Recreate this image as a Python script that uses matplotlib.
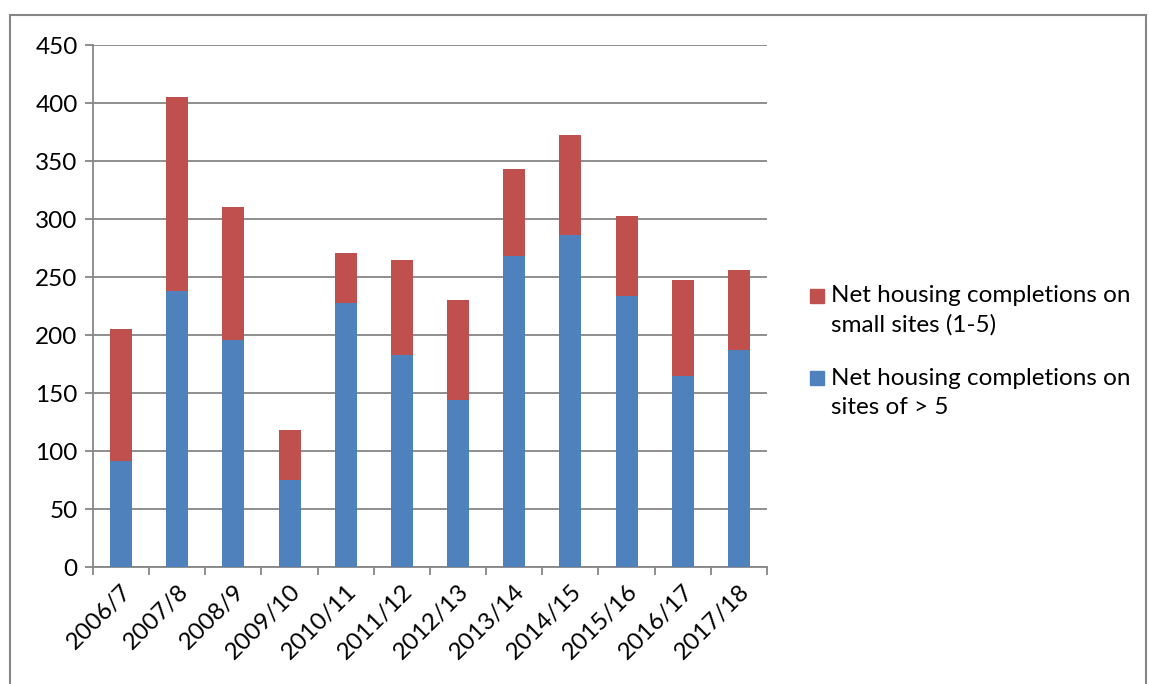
import matplotlib.pyplot as plt
from matplotlib.patches import Rectangle
import numpy as np

years = ["2006/7", "2007/8", "2008/9", "2009/10", "2010/11", "2011/12",
         "2012/13", "2013/14", "2014/15", "2015/16", "2016/17", "2017/18"]
large_sites = [91, 238, 196, 75, 228, 183, 144, 268, 286, 234, 165, 187]
small_sites = [114, 167, 114, 43, 43, 82, 86, 75, 86, 69, 82, 69]

blue = "#4F81BD"
red = "#C0504D"
grid_col = "#868686"

plt.rcParams['font.family'] = ['Lato', 'DejaVu Sans']

W, H = 1149, 684
fig = plt.figure(figsize=(W / 100, H / 100), dpi=100)
ax = fig.add_axes([93 / W, 117 / H, 674 / W, 522 / H])

x = np.arange(len(years))
ax.bar(x, large_sites, width=0.39, color=blue, zorder=3)
ax.bar(x, small_sites, width=0.39, bottom=large_sites, color=red, zorder=3)

ax.set_xlim(-0.5, 11.5)
ax.set_ylim(0, 450)
ax.set_yticks(range(0, 451, 50))
ax.yaxis.grid(True, color=grid_col, linewidth=1.3, zorder=0)

ax.set_xticks(x)
ax.set_xticklabels(years, rotation=45, ha="right", rotation_mode="anchor", fontsize=17.5)
ax.set_xticks(np.arange(-0.5, 12, 1), minor=True)
ax.tick_params(axis="x", which="major", length=0, pad=10)
ax.tick_params(axis="x", which="minor", length=6, color=grid_col, width=1.3)
ax.tick_params(axis="y", length=6, color=grid_col, width=1.3, labelsize=17.5, pad=5)

for side in ["top", "right"]:
    ax.spines[side].set_visible(False)
for side in ["left", "bottom"]:
    ax.spines[side].set_color(grid_col)
    ax.spines[side].set_linewidth(1.3)

# legend (Excel style: swatch lined up with the first text line)
legend_items = [
    (red, ["Net housing completions on", "small sites (1-5)"], 296),
    (blue, ["Net housing completions on", "sites of > 5"], 378),
]
for col, lines, ytop in legend_items:
    fig.patches.append(Rectangle((810 / W, 1 - (ytop + 7) / H), 14 / W, 14 / H,
                                 transform=fig.transFigure, color=col))
    for i, line in enumerate(lines):
        fig.text(831 / W, 1 - (ytop + i * 29) / H, line, fontsize=17.5,
                 va="center", ha="left")

# outer chart frame
fig.patches.append(Rectangle((10 / W, -0.05), 1136 / W, 1.05 - 15 / H,
                             transform=fig.transFigure, fill=False,
                             edgecolor=grid_col, linewidth=1.5))

fig.savefig("out.png", dpi=100)
